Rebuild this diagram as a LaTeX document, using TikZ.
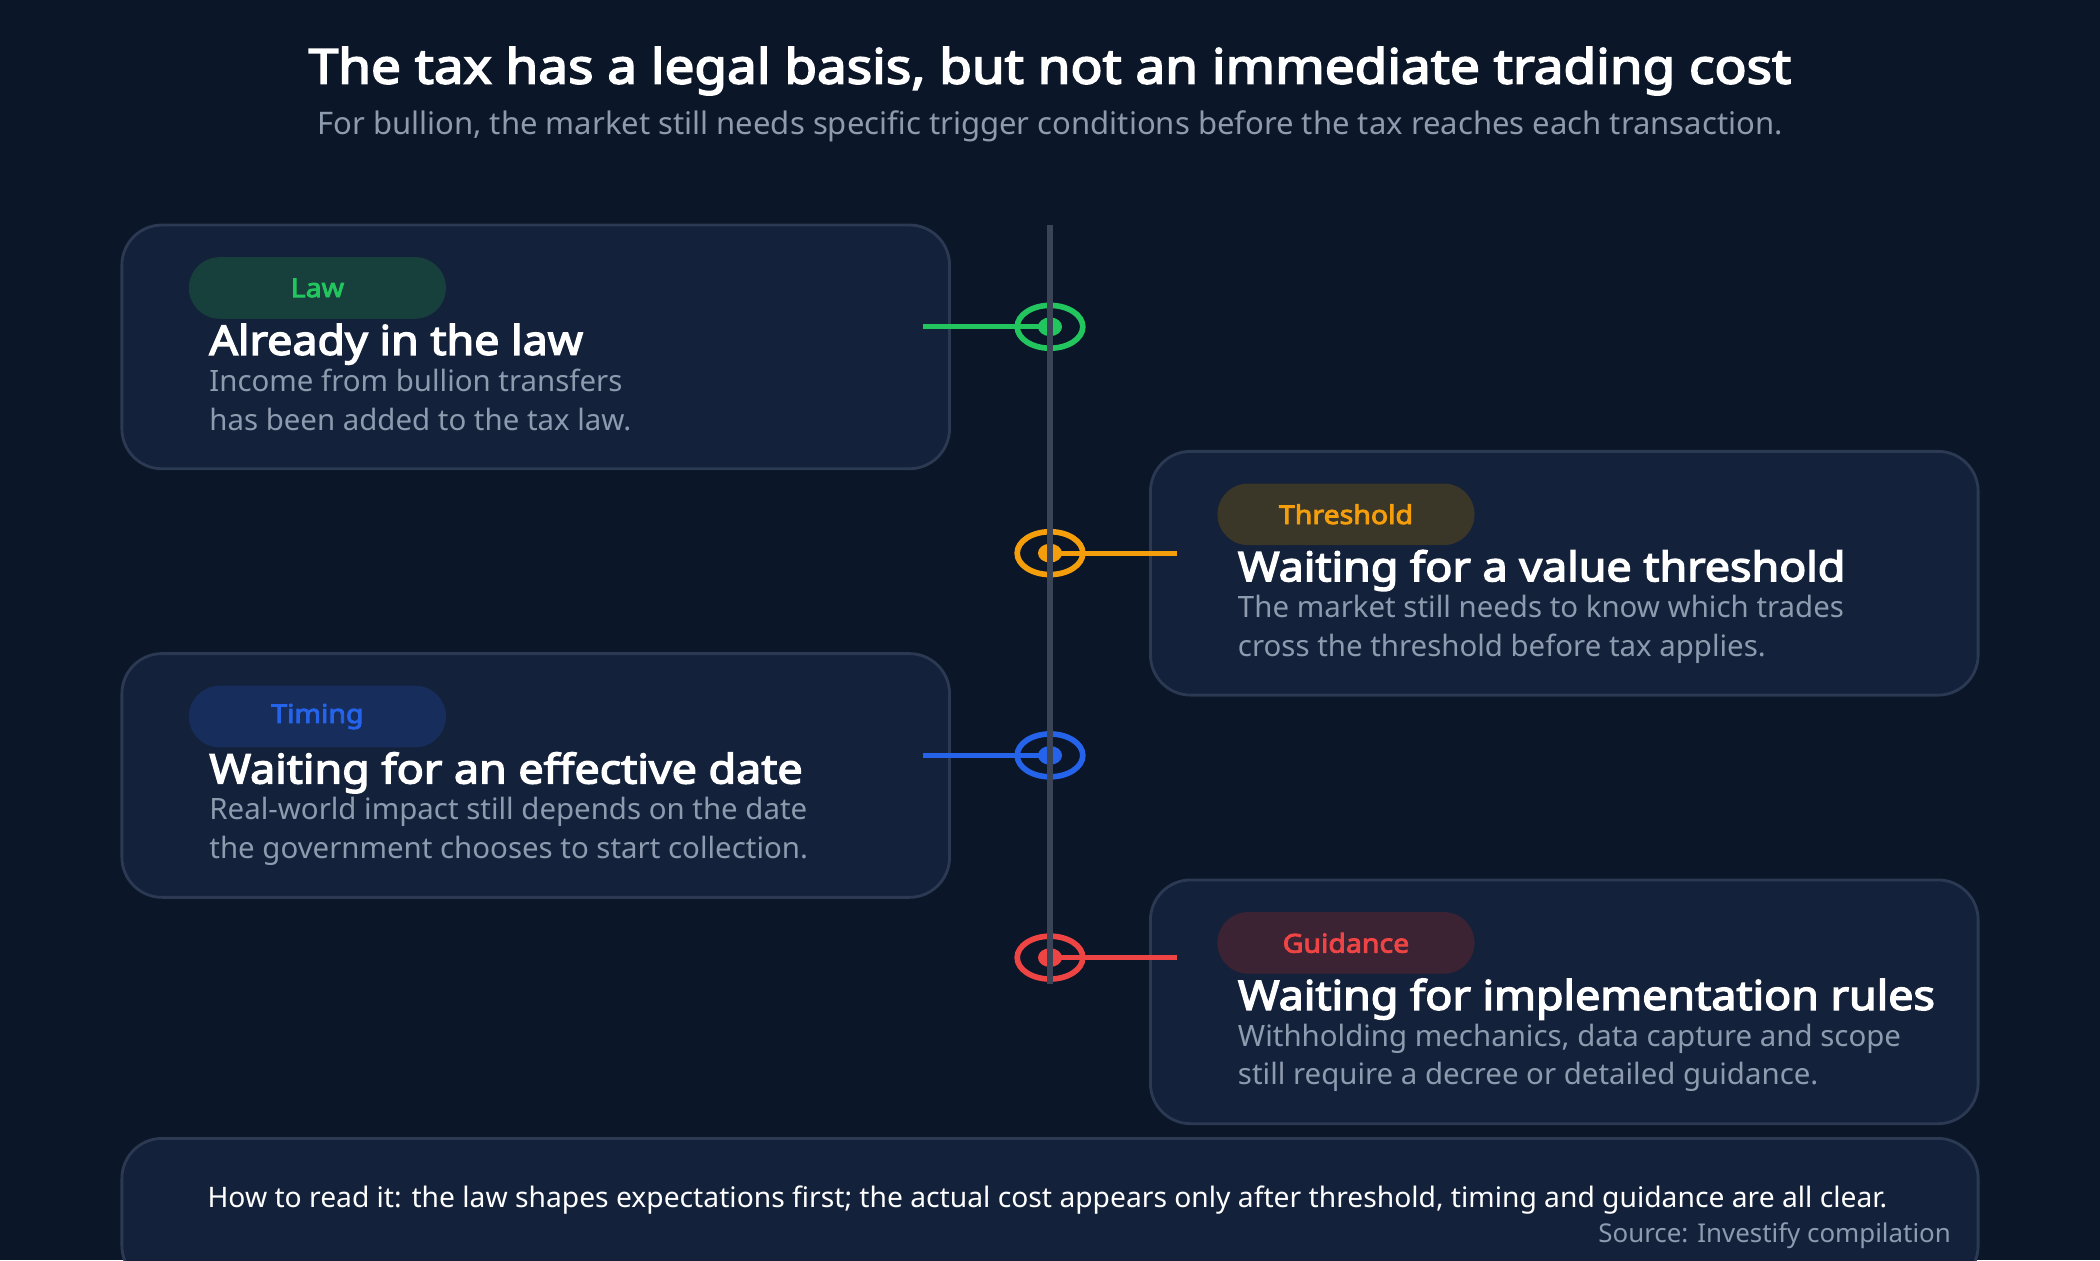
\documentclass[tikz,border=0pt]{standalone}
\usepackage{fontspec}
\setmainfont{Noto Sans}[BoldFont={Noto Sans},BoldFeatures={FakeBold=3.5,FakeStretch=1.1}]
\usetikzlibrary{shapes.geometric}
\begin{document}
\begin{tikzpicture}[x=0.02cm,y=-0.02cm,
 card/.style={draw=cardline,line width=1.2pt,fill=cardbg,rounded corners=0.6cm},
 pill/.style={rounded corners=0.46cm,minimum width=3.84cm,minimum height=0.92cm,inner sep=0pt,font=\fontsize{11}{13}\selectfont\bfseries},
 head/.style={anchor=west,inner sep=0pt,text=white,font=\fontsize{17.3}{20}\selectfont\bfseries},
 body/.style={anchor=north west,inner sep=0pt,text=bodygray,align=left,font=\fontsize{12.5}{16.5}\selectfont},
 ring/.style={draw=#1,line width=2.4pt,ellipse,minimum width=0.98cm,minimum height=0.64cm,inner sep=0pt},
 dot/.style={fill=#1,ellipse,minimum width=0.36cm,minimum height=0.28cm,inner sep=0pt}]
\definecolor{bg}{HTML}{0B1628}
\definecolor{cardbg}{HTML}{13213A}
\definecolor{cardline}{HTML}{2B3A52}
\definecolor{bodygray}{HTML}{8E9AAE}
\definecolor{tl}{HTML}{3A4456}
\definecolor{cg}{HTML}{22C55E}\definecolor{pg}{HTML}{173F3C}
\definecolor{co}{HTML}{F59E0B}\definecolor{po}{HTML}{3A3628}
\definecolor{cb}{HTML}{2563EB}\definecolor{pb}{HTML}{172E5C}
\definecolor{cr}{HTML}{EF4444}\definecolor{pr}{HTML}{3B2334}
\fill[bg] (0,0) rectangle (1568,941);
\useasboundingbox (0,0) rectangle (1568,941);
\node[text=white,font=\fontsize{20.5}{24}\selectfont\bfseries] (title) at (784,53) {The tax has a legal basis, but not an immediate trading cost};
\node[text=bodygray,font=\fontsize{13.2}{16}\selectfont] (sub) at (784,94) {For bullion, the market still needs specific trigger conditions before the tax reaches each transaction.};
% cards
\draw[card] (91,168) rectangle (709,350);
\draw[card] (859,337) rectangle (1477,519);
\draw[card] (91,488) rectangle (709,670);
\draw[card] (859,657) rectangle (1477,839);
\draw[card] (91,850) rectangle (1477,960);
% timeline
\coordinate (ttop) at (784,168); \coordinate (tbot) at (784,735);
% card 1
\node[pill,fill=pg,text=cg] (p1) at (237,215) {Law};
\node[head] (h1) at (156,257) {Already in the law};
\node[body] (b1) at (156,275) {Income from bullion transfers\\has been added to the tax law.};
\coordinate (e1) at (689,244);
\node[ring=cg] (r1) at (784,244) {};
\draw[cg,line width=2.2pt] (e1) -- (r1.center);
\node[dot=cg] (d1) at (784,244) {};
% card 2
\node[pill,fill=po,text=co] (p2) at (1005,384) {Threshold};
\node[head] (h2) at (924,426) {Waiting for a value threshold};
\node[body] (b2) at (924,444) {The market still needs to know which trades\\cross the threshold before tax applies.};
\coordinate (e2) at (879,413);
\node[ring=co] (r2) at (784,413) {};
\draw[co,line width=2.2pt] (r2.center) -- (e2);
\node[dot=co] (d2) at (784,413) {};
% card 3
\node[pill,fill=pb,text=cb] (p3) at (237,535) {Timing};
\node[head] (h3) at (156,577) {Waiting for an effective date};
\node[body] (b3) at (156,595) {Real-world impact still depends on the date\\the government chooses to start collection.};
\coordinate (e3) at (689,564);
\node[ring=cb] (r3) at (784,564) {};
\draw[cb,line width=2.2pt] (e3) -- (r3.center);
\node[dot=cb] (d3) at (784,564) {};
% card 4
\node[pill,fill=pr,text=cr] (p4) at (1005,704) {Guidance};
\node[head] (h4) at (924,746) {Waiting for implementation rules};
\node[body] (b4) at (924,764) {Withholding mechanics, data capture and scope\\still require a decree or detailed guidance.};
\coordinate (e4) at (879,715);
\node[ring=cr] (r4) at (784,715) {};
\draw[cr,line width=2.2pt] (r4.center) -- (e4);
\node[dot=cr] (d4) at (784,715) {};
\draw[tl,line width=2.5pt] (ttop) -- (tbot);
% footer
\node[text=white,font=\fontsize{12}{14}\selectfont] (foot) at (782,896) {How to read it: the law shapes expectations first; the actual cost appears only after threshold, timing and guidance are all clear.};
\node[anchor=east,inner sep=0pt,text=bodygray,font=\fontsize{11}{13}\selectfont] (src) at (1457,923) {Source: Investify compilation};
\end{tikzpicture}
\end{document}
